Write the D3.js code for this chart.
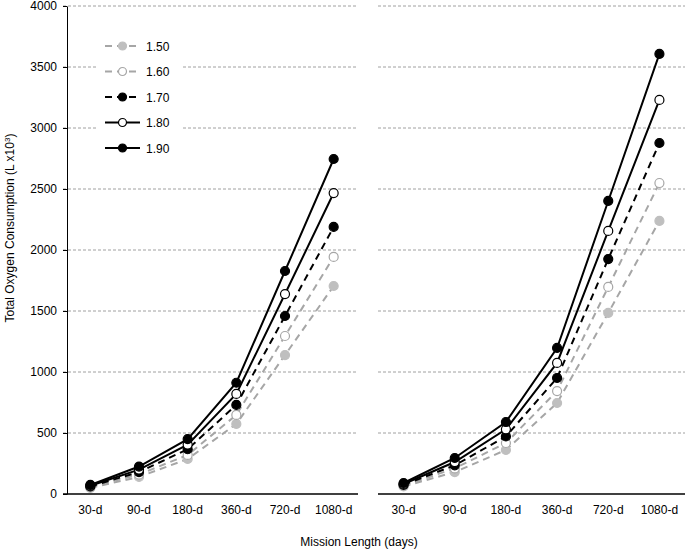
<!DOCTYPE html>
<html>
<head>
<meta charset="utf-8">
<script src="https://cdn.jsdelivr.net/npm/d3@7"></script>
<style>
    body { margin: 0; background: #fff; }
    svg { font-family: "Liberation Sans", Arial, sans-serif; }
    .grid line { stroke: #a0a0a0; stroke-dasharray: 3,2; stroke-width: 1; }
</style>
</head>
<body>
<svg></svg>
<script>

// Categories and series names.
var missions = ['30-d', '90-d', '180-d', '360-d', '720-d', '1080-d'];
var seriesNames = ['1.50', '1.60', '1.70', '1.80', '1.90'];
var yTicks = [0, 500, 1000, 1500, 2000, 2500, 3000, 3500, 4000];

// Left panel values (L x10^3).
var left150 = [50, 140, 287, 574, 1139, 1705];
var left160 = [56, 160, 320, 648, 1295, 1943];
var left170 = [62, 180, 367, 730, 1459, 2189];
var left180 = [68, 200, 405, 820, 1639, 2467];
var left190 = [74, 225, 450, 912, 1828, 2746];

// Right panel values (L x10^3).
var right150 = [62, 180, 361, 746, 1484, 2238];
var right160 = [68, 210, 418, 844, 1697, 2549];
var right170 = [75, 235, 472, 951, 1926, 2877];
var right180 = [82, 262, 530, 1074, 2156, 3230];
var right190 = [90, 295, 590, 1197, 2402, 3607];


//==============================================================================
// Build panels.

var styles = {
    '1.50': { stroke: '#a6a6a6', dash: '7,5', fill: '#bfbfbf', mstroke: '#bfbfbf' },
    '1.60': { stroke: '#a6a6a6', dash: '7,5', fill: '#fff', mstroke: '#a6a6a6' },
    '1.70': { stroke: '#000', dash: '7,5', fill: '#000', mstroke: '#000' },
    '1.80': { stroke: '#000', dash: null, fill: '#fff', mstroke: '#000' },
    '1.90': { stroke: '#000', dash: null, fill: '#000', mstroke: '#000' }
};

var panels = [
    { range: [66, 358], axisFrom: 63, axisTo: 358, yAxis: true,
      series: [left150, left160, left170, left180, left190] },
    { range: [378, 685], axisFrom: 378, axisTo: 685, yAxis: false,
      series: [right150, right160, right170, right180, right190] }
];

var svg = d3.select('svg')
    .attr('width', 685)
    .attr('height', 550)
;

var yScale = d3.scaleLinear()
    .domain([0, 4000])
    .range([494, 6])
;

panels.forEach(function(p, pi) {
    var xScale = d3.scalePoint()
        .domain(missions)
        .range(p.range)
        .padding(0.5)
    ;

    var g = svg.append('g');

    // Grid lines.
    g.append('g')
        .classed('grid', true)
        .selectAll('line')
        .data(yTicks.slice(1))
        .enter()
        .append('line')
        .attr('x1', p.axisFrom)
        .attr('x2', p.axisTo)
        .attr('y1', function(d) { return yScale(d); })
        .attr('y2', function(d) { return yScale(d); })
    ;

    if (p.yAxis) {
        var yAxis = g.append('g')
            .attr('transform', 'translate(67,0)')
            .call(d3.axisLeft(yScale)
                .tickValues(yTicks)
                .tickFormat(d3.format('d'))
                .tickSize(4)
                .tickPadding(6)
                .tickSizeOuter(0))
        ;
        yAxis.selectAll('text').style('font-size', '12px').style('fill', '#000');
        yAxis.selectAll('line, path').style('stroke', '#000');
    }

    // X axis.
    g.append('line')
        .attr('x1', p.axisFrom)
        .attr('x2', p.axisTo)
        .attr('y1', yScale(0))
        .attr('y2', yScale(0))
        .style('stroke', '#000')
        .style('stroke-width', 1.5)
    ;

    g.selectAll('.xlabel')
        .data(missions)
        .enter()
        .append('text')
        .classed('xlabel', true)
        .attr('x', function(d) { return xScale(d); })
        .attr('y', 514)
        .attr('text-anchor', 'middle')
        .style('font-size', '12px')
        .text(function(d) { return d; })
    ;

    // Series.
    var line = d3.line()
        .x(function(d, i) { return xScale(missions[i]); })
        .y(function(d) { return yScale(d); })
    ;

    p.series.forEach(function(values, si) {
        var st = styles[seriesNames[si]];
        g.append('path')
            .attr('d', line(values))
            .style('fill', 'none')
            .style('stroke', st.stroke)
            .style('stroke-width', 2)
            .style('stroke-dasharray', st.dash)
        ;
        g.selectAll('.pt' + si)
            .data(values)
            .enter()
            .append('circle')
            .attr('cx', function(d, i) { return xScale(missions[i]); })
            .attr('cy', function(d) { return yScale(d); })
            .attr('r', 4.5)
            .style('fill', st.fill)
            .style('stroke', st.mstroke)
            .style('stroke-width', 1.2)
        ;
    });
});


//==============================================================================
// Legend.

var legend = svg.append('g');

legend.append('rect')
    .attr('x', 96)
    .attr('y', 32)
    .attr('width', 86)
    .attr('height', 128)
    .style('fill', '#fff')
;

var legendItems = legend.selectAll('.legend-item')
    .data(seriesNames)
    .enter()
    .append('g')
    .classed('legend-item', true)
    .attr('transform', function(d, i) { return 'translate(0,' + (46 + i * 25.5) + ')'; })
;

legendItems.append('line')
    .attr('x1', 105)
    .attr('x2', 140)
    .style('stroke', function(d) { return styles[d].stroke; })
    .style('stroke-width', 2)
    .style('stroke-dasharray', function(d) { return styles[d].dash; })
;

legendItems.append('circle')
    .attr('cx', 122.5)
    .attr('r', 4)
    .style('fill', function(d) { return styles[d].fill; })
    .style('stroke', function(d) { return styles[d].mstroke; })
    .style('stroke-width', 1.2)
;

legendItems.append('text')
    .attr('x', 146)
    .attr('y', 4.5)
    .style('font-size', '12px')
    .text(function(d) { return d; })
;


//==============================================================================
// Axis titles.

var yTitle = svg.append('text')
    .attr('transform', 'translate(14,228) rotate(-90)')
    .attr('text-anchor', 'middle')
    .style('font-size', '12px')
;
yTitle.append('tspan').text('Total Oxygen Consumption (L x10');
yTitle.append('tspan')
    .attr('dy', -4)
    .style('font-size', '8px')
    .text('3')
;
yTitle.append('tspan').attr('dy', 4).text(')');

svg.append('text')
    .attr('x', 359)
    .attr('y', 546)
    .attr('text-anchor', 'middle')
    .style('font-size', '12px')
    .text('Mission Length (days)')
;

</script>
</body>
</html>
